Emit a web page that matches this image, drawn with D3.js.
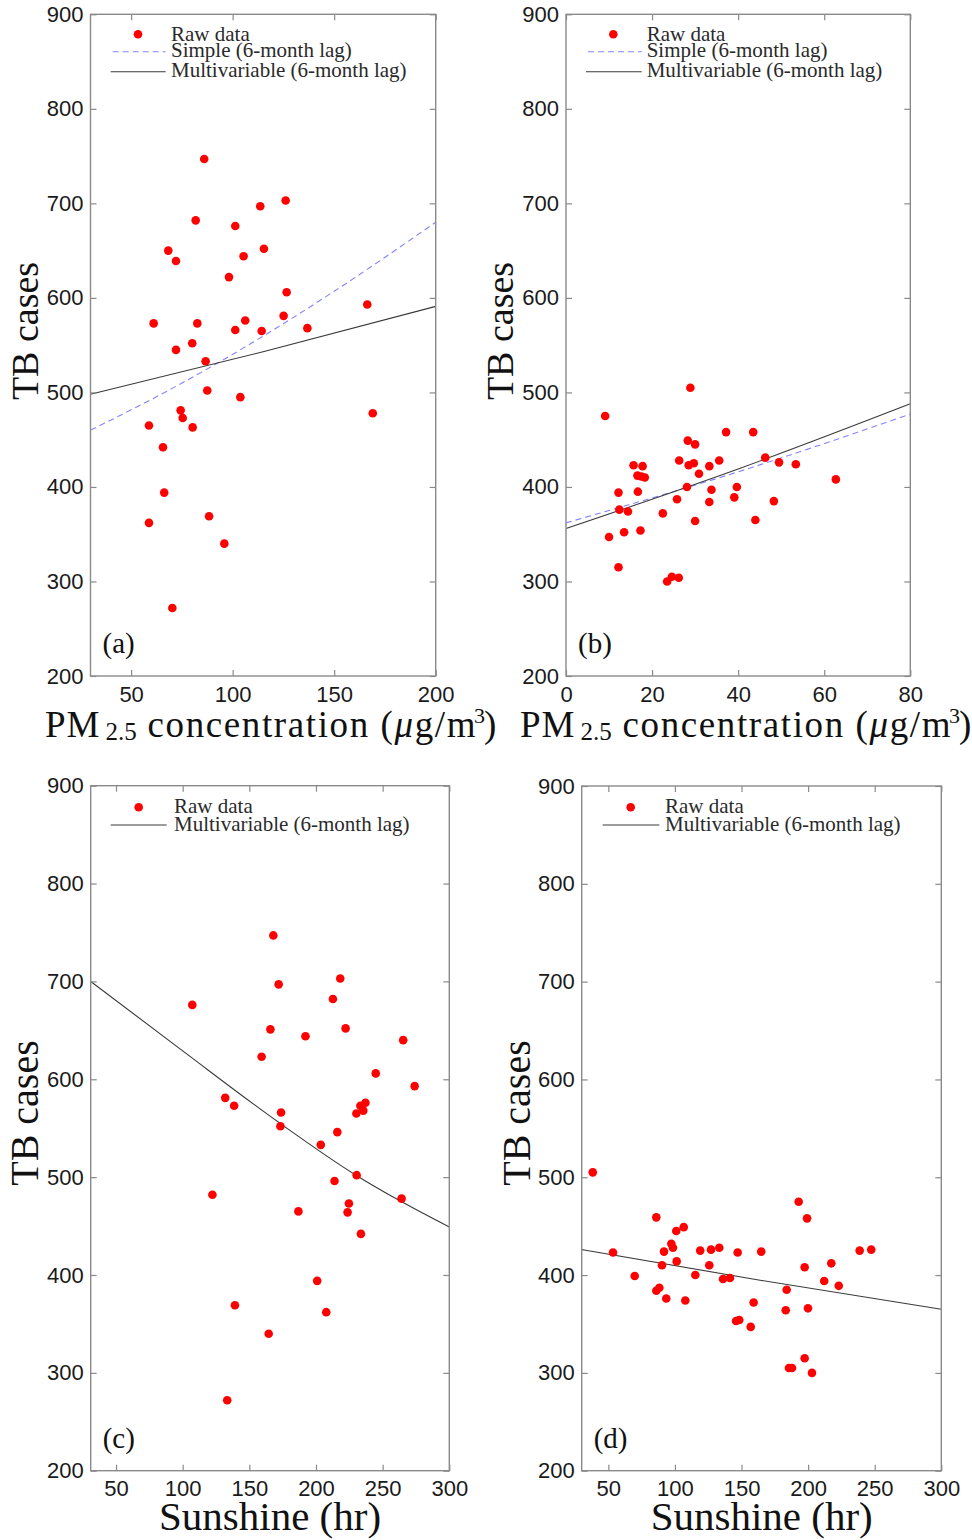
<!DOCTYPE html>
<html>
<head>
<meta charset="utf-8">
<script src="https://cdn.jsdelivr.net/npm/d3@7"></script>
<style>
  body { margin: 0; background: #fff; }
  svg { display: block; }
</style>
</head>
<body>
<svg id="chart" width="972" height="1540"></svg>
<script>
/* TB cases vs PM2.5 and sunshine, 4 scatter panels with fitted curves */

// panel (a): PM2.5 vs TB cases
const aPm25 = [86.0, 126.1, 113.6, 81.8, 101.3, 68.3, 115.4, 72.1, 105.4, 98.2, 126.6, 166.3,
  61.1, 82.6, 125.1, 106.2, 101.3, 114.3, 136.8, 72.1, 80.1, 86.7, 87.5, 103.8, 74.4,
  75.4, 58.8, 80.3, 169.0, 65.7, 66.3, 88.4, 58.8, 95.9, 70.3];
const aCases = [747, 703, 697, 682, 676, 650, 652, 639, 644, 622, 606, 593,
  573, 573, 581, 576, 566, 565, 568, 545, 552, 533, 502, 495, 481,
  473, 465, 463, 478, 442, 394, 369, 362, 340, 272];

// panel (b): PM2.5 vs TB cases
const bPm25 = [28.9, 9.1, 37.2, 43.5, 28.3, 30.0, 46.3, 26.3, 35.6, 49.5, 15.7, 17.8, 28.5, 29.7,
  33.3, 53.4, 16.6, 17.5, 18.3, 30.9, 62.7, 16.7, 12.2, 28.1, 33.8, 39.7, 25.8, 39.1,
  33.3, 48.3, 12.4, 14.4, 22.5, 30.0, 44.0, 10.0, 13.5, 17.3, 12.2, 23.5, 24.6, 26.2];
const bCases = [505, 475, 458, 458, 449, 445, 431, 428, 428, 426, 423, 422, 423, 425,
  422, 424, 412, 411, 410, 414, 408, 395, 394, 400, 397, 400, 387, 389,
  384, 385, 376, 374, 372, 364, 365, 347, 352, 354, 315, 300, 305, 304];

// panel (c): sunshine vs TB cases
const cSunshine = [168.0, 172.0, 218.2, 107.2, 212.7, 165.8, 222.2, 192.1, 265.4, 159.2, 244.8, 274.0,
  131.9, 138.6, 237.1, 233.3, 235.5, 230.3, 173.8, 173.3, 216.0, 203.6, 230.5, 213.9,
  122.3, 264.2, 224.7, 223.7, 186.8, 233.7, 200.9, 139.2, 207.7, 164.5, 133.4];
const cCases = [747, 697, 703, 676, 682, 651, 652, 644, 640, 623, 606, 593,
  581, 573, 576, 573, 568, 565, 566, 552, 546, 533, 502, 496,
  482, 478, 473, 464, 465, 442, 394, 369, 362, 340, 272];

// panel (d): sunshine vs TB cases
const dSunshine = [38.3, 192.9, 86.0, 199.2, 106.6, 101.0, 97.3, 98.5, 133.3, 127.1, 247.4, 238.7,
  119.0, 164.8, 91.8, 147.1, 53.5, 101.3, 217.4, 90.3, 125.8, 197.4, 69.8, 115.3, 136.1,
  141.3, 212.1, 223.0, 88.3, 86.0, 183.9, 93.5, 107.8, 159.1, 183.2, 199.9, 145.9, 148.3,
  156.9, 197.4, 185.6, 187.9, 202.9];
const dCases = [505, 475, 459, 458, 449, 445, 432, 428, 428, 426, 426, 425,
  425, 424, 424, 423, 423, 414, 412, 410, 410, 408, 399, 400, 396,
  397, 394, 389, 387, 384, 385, 376, 374, 372, 364, 366, 353, 354,
  347, 315, 305, 305, 300];

// fitted curves, read at a few x positions
const aSimpleX = [30, 70, 110, 150, 200];
const aSimpleY = [460, 504, 553, 607, 680];
const aMultiX = [30, 115, 200];
const aMultiY = [498, 543, 591];
const bSimpleX = [0, 40, 80];
const bSimpleY = [362, 416, 477];
const bMultiX = [0, 40, 80];
const bMultiY = [356, 419, 488];
const cMultiX = [31, 100, 173, 230, 264, 300];
const cMultiY = [700, 629, 555, 502, 475, 449];
const dMultiX = [30, 165, 300];
const dMultiY = [426, 394.5, 365];

const yTicks = [200, 300, 400, 500, 600, 700, 800, 900];

const svg = d3.select("#chart");
svg.append("rect").attr("width", 972).attr("height", 1540).attr("fill", "#fff");

const serif = "'Liberation Serif', 'Times New Roman', serif";
const sans = "'Liberation Sans', Arial, sans-serif";

const panels = [
  {
    id: "(a)", box: [90.5, 14.3, 435.7, 676], xDomain: [30, 200], xTicks: [50, 100, 150, 200],
    px: aPm25, py: aCases,
    fits: [
      {x: aSimpleX, y: aSimpleY, dashed: true},
      {x: aMultiX, y: aMultiY, dashed: false}
    ],
    legend: {dot: [138, 34.3], rows: [
      {label: "Raw data", base: 40.5},
      {label: "Simple (6-month lag)", base: 56.7, line: [112.7, 165.7, 51.7], dashed: true},
      {label: "Multivariable (6-month lag)", base: 77, line: [110.7, 165.7, 71.7]}
    ], tx: 171},
    ylab: [38, 331], xlab: {x: 45, y: 737, type: "pm"}
  },
  {
    id: "(b)", box: [566, 14.3, 910.3, 676], xDomain: [0, 80], xTicks: [0, 20, 40, 60, 80],
    px: bPm25, py: bCases,
    fits: [
      {x: bSimpleX, y: bSimpleY, dashed: true},
      {x: bMultiX, y: bMultiY, dashed: false}
    ],
    legend: {dot: [613.3, 34.3], rows: [
      {label: "Raw data", base: 40.5},
      {label: "Simple (6-month lag)", base: 56.7, line: [588, 641.7, 51.7], dashed: true},
      {label: "Multivariable (6-month lag)", base: 77, line: [586, 641.7, 71.7]}
    ], tx: 646.7},
    ylab: [513, 331], xlab: {x: 520, y: 736.5, type: "pm"}
  },
  {
    id: "(c)", box: [90.7, 785.7, 449.3, 1470.7], xDomain: [31, 300], xTicks: [50, 100, 150, 200, 250, 300],
    px: cSunshine, py: cCases,
    fits: [{x: cMultiX, y: cMultiY, dashed: false}],
    legend: {dot: [138.7, 807.3], rows: [
      {label: "Raw data", base: 813.3},
      {label: "Multivariable (6-month lag)", base: 831, line: [110.7, 166.7, 825]}
    ], tx: 174},
    ylab: [38, 1113], xlab: {x: 159, y: 1530, type: "sun"}
  },
  {
    id: "(d)", box: [581.7, 786, 941.3, 1470.7], xDomain: [30, 300], xTicks: [50, 100, 150, 200, 250, 300],
    px: dSunshine, py: dCases,
    fits: [{x: dMultiX, y: dMultiY, dashed: false}],
    legend: {dot: [630.7, 807.3], rows: [
      {label: "Raw data", base: 813.3},
      {label: "Multivariable (6-month lag)", base: 831, line: [602.7, 659.3, 825]}
    ], tx: 665},
    ylab: [530, 1113], xlab: {x: 650.7, y: 1530, type: "sun"}
  }
];

const axisColor = "#8a8a8a";
const blue = "#8383ff";

panels.forEach(p => {
  const [x0, y0, x1, y1] = p.box;
  const x = d3.scaleLinear().domain(p.xDomain).range([x0, x1]);
  const y = d3.scaleLinear().domain([200, 900]).range([y1, y0]);
  const g = svg.append("g");

  // fitted curves
  const line = d3.line()
    .x(d => x(d[0]))
    .y(d => y(d[1]))
    .curve(d3.curveMonotoneX);

  p.fits.forEach(f => {
    g.append("path")
      .datum(d3.zip(f.x, f.y))
      .attr("d", line)
      .attr("fill", "none")
      .attr("stroke", f.dashed ? blue : "#3a3a3a")
      .attr("stroke-width", 1.1)
      .attr("stroke-dasharray", f.dashed ? "6,4" : null);
  });

  // raw data
  g.append("g")
    .selectAll("circle")
    .data(d3.zip(p.px, p.py))
    .join("circle")
    .attr("cx", d => x(d[0]))
    .attr("cy", d => y(d[1]))
    .attr("r", 4.3)
    .attr("fill", "#ff0000");

  // axes, ticks pointing inward on all sides
  const styleAxis = sel => {
    sel.select(".domain").remove();
    sel.selectAll(".tick line").attr("stroke", axisColor).attr("stroke-width", 1.2);
    sel.selectAll(".tick text")
      .attr("fill", "#1a1a1a")
      .attr("font-family", sans)
      .attr("font-size", 22);
  };

  g.append("g").attr("transform", `translate(${x0},0)`)
    .call(d3.axisLeft(y).tickValues(yTicks).tickSize(-6).tickPadding(7))
    .call(styleAxis);
  g.append("g").attr("transform", `translate(${x1},0)`)
    .call(d3.axisRight(y).tickValues(yTicks).tickSize(-6).tickFormat(""))
    .call(styleAxis);
  g.append("g").attr("transform", `translate(0,${y1})`)
    .call(d3.axisBottom(x).tickValues(p.xTicks).tickSize(-6).tickPadding(10))
    .call(styleAxis);
  g.append("g").attr("transform", `translate(0,${y0})`)
    .call(d3.axisTop(x).tickValues(p.xTicks).tickSize(-6).tickFormat(""))
    .call(styleAxis);

  g.append("rect")
    .attr("x", x0).attr("y", y0)
    .attr("width", x1 - x0).attr("height", y1 - y0)
    .attr("fill", "none")
    .attr("stroke", axisColor)
    .attr("stroke-width", 1.4);

  // legend
  const lg = g.append("g");
  lg.append("circle")
    .attr("cx", p.legend.dot[0]).attr("cy", p.legend.dot[1])
    .attr("r", 4.3).attr("fill", "#ff0000");
  p.legend.rows.forEach(r => {
    if (r.line) {
      lg.append("line")
        .attr("x1", r.line[0]).attr("x2", r.line[1])
        .attr("y1", r.line[2]).attr("y2", r.line[2])
        .attr("stroke", r.dashed ? blue : "#3a3a3a")
        .attr("stroke-width", 1.1)
        .attr("stroke-dasharray", r.dashed ? "6,4" : null);
    }
    lg.append("text")
      .attr("x", p.legend.tx).attr("y", r.base)
      .attr("font-family", serif)
      .attr("font-size", 21)
      .attr("fill", "#2a2a2a")
      .text(r.label);
  });

  // panel tag
  g.append("text")
    .attr("x", x0 + 12)
    .attr("y", y1 - 23)
    .attr("font-family", serif)
    .attr("font-size", 29)
    .attr("fill", "#111")
    .text(p.id);

  // y title
  g.append("text")
    .attr("transform", `translate(${p.ylab[0]},${p.ylab[1]}) rotate(-90)`)
    .attr("text-anchor", "middle")
    .attr("font-family", serif)
    .attr("font-size", p.id === "(a)" || p.id === "(b)" ? 38 : 40)
    .attr("fill", "#111")
    .text("TB cases");

  // x title
  const xt = g.append("text")
    .attr("x", p.xlab.x).attr("y", p.xlab.y)
    .attr("font-family", serif)
    .attr("font-size", 37)
    .attr("fill", "#111");
  if (p.xlab.type === "pm") {
    xt.append("tspan").attr("letter-spacing", 1).text("PM");
    xt.append("tspan").attr("dx", 5).attr("dy", 3).attr("font-size", 25).text("2.5");
    xt.append("tspan").attr("dy", -3).attr("letter-spacing", 1.6).text(" concentration (");
    xt.append("tspan").attr("font-style", "italic").attr("letter-spacing", 1.6).text("μ");
    xt.append("tspan").attr("letter-spacing", 1.6).text("g/m");
    xt.append("tspan").attr("dx", -3).attr("dy", -14).attr("font-size", 22).text("3");
    xt.append("tspan").attr("dx", -1).attr("dy", 14).text(")");
  } else {
    xt.attr("font-size", 41).text("Sunshine (hr)");
  }
});
</script>
</body>
</html>
